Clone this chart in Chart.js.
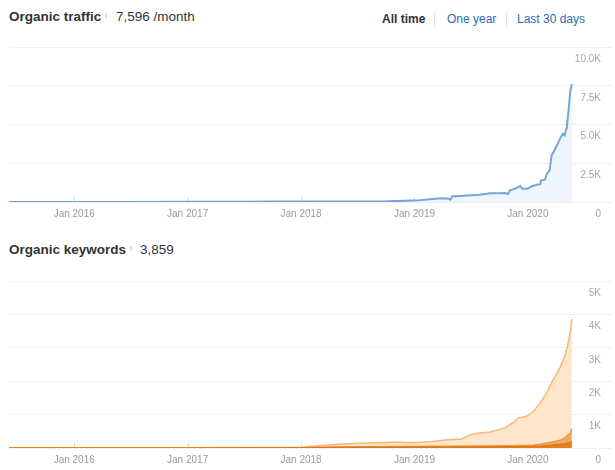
<!DOCTYPE html>
<html>
<head>
<meta charset="utf-8">
<script src="https://cdn.jsdelivr.net/npm/chart.js@4.4.1/dist/chart.umd.min.js"></script>
<style>
  body { margin: 0; background: #fff; font-family: "Liberation Sans", Arial, sans-serif; }
  #page { position: relative; width: 615px; height: 470px; overflow: hidden; }
  .t { position: absolute; white-space: nowrap; line-height: 16px; color: #333; }
  .title { font-weight: bold; font-size: 13.5px; }
  .num { font-size: 13.5px; }
  .info { font-size: 8px; color: #aaa; line-height: 10px; }
  .link { font-size: 12px; color: #2f6db5; }
  .sep { position: absolute; width: 1px; height: 15px; background: #e2e2e2; }
  .box { position: absolute; }
</style>
</head>
<body>
<div id="page">
  <div class="t title" style="left:9px;top:9px">Organic traffic</div>
  <div class="t info" style="left:105px;top:11px">i</div>
  <div class="t num" style="left:116px;top:9px">7,596 /month</div>

  <div class="t link" style="left:382px;top:11px;color:#333;font-weight:bold">All time</div>
  <div class="sep" style="left:434px;top:12px"></div>
  <div class="t link" style="left:447px;top:11px">One year</div>
  <div class="sep" style="left:506px;top:12px"></div>
  <div class="t link" style="left:517px;top:11px">Last 30 days</div>

  <div class="box" id="trafficChart" style="left:9px;top:40px;width:603px;height:185px"></div>

  <div class="t title" style="left:9px;top:242px">Organic keywords</div>
  <div class="t info" style="left:130px;top:244px">i</div>
  <div class="t num" style="left:140px;top:242px">3,859</div>

  <div class="box" id="keywordsChart" style="left:9px;top:274px;width:603px;height:197px"></div>
</div>
<script>
// months counted from Jan 2015 (12 = Jan 2016)
const yearTicks = [12, 24, 36, 48, 60];

const trafficMonths = [5.1, 8, 12, 18, 24, 30, 33, 36, 40, 42, 44.4, 46, 47.8, 48.5, 49.6, 50.9, 51.5, 51.8, 52,
    53.1, 54, 54.9, 56, 57, 57.6, 57.9, 58.1, 58.6, 59, 59.2, 59.4, 59.9, 60.5, 61, 61.3, 61.4, 61.8, 62, 62.3,
    62.5, 62.9, 63.4, 63.7, 63.9, 64.0, 64.1, 64.3, 64.5, 64.65];
const trafficValues = [5, 5, 6, 8, 10, 15, 25, 30, 30, 35, 40, 60, 100, 110, 170, 240, 230, 150, 360,
    410, 440, 470, 560, 570, 580, 520, 750, 850, 970, 1030, 860, 850, 1030, 1120, 1150, 1400, 1440, 1830, 2040,
    3000, 3440, 4090, 4400, 4300, 4600, 4730, 5900, 7200, 7596];

const keywordMonths = [5.1, 12, 24, 36, 38, 40, 42, 44.4, 46, 47.8, 49.6, 51.5, 53, 53.9, 54.9, 56, 56.6, 57.6,
    58.4, 59, 59.9, 60.6, 61.3, 62, 62.6, 63.4, 63.9, 64.2, 64.5, 64.65];
const keywordsTotal = [5, 5, 8, 20, 70, 110, 140, 160, 180, 160, 190, 250, 270, 400, 450, 480, 520, 610,
    750, 900, 950, 1100, 1350, 1650, 2000, 2400, 2750, 3050, 3500, 3859];
const keywordsTop10 = [2, 2, 3, 8, 20, 30, 35, 40, 45, 45, 50, 55, 55, 60, 60, 65, 65, 70,
    70, 75, 80, 90, 110, 150, 180, 230, 300, 380, 450, 580];
const keywordsTop3 = [1, 1, 2, 5, 10, 15, 18, 20, 22, 22, 25, 25, 28, 30, 30, 32, 32, 35,
    35, 38, 40, 45, 55, 70, 85, 110, 130, 150, 160, 190];

const FONT = "'Liberation Sans', Arial, sans-serif";

function points(xs, ys) {
    return xs.map((x, i) => ({ x: x, y: ys[i] }));
}

// small tick marks standing on the baseline at each year
const yearMarks = {
    id: 'yearMarks',
    beforeDatasetsDraw(chart) {
        const x = chart.scales.x, y = chart.scales.y;
        const ctx = chart.ctx;
        const base = y.getPixelForValue(0);
        ctx.save();
        ctx.strokeStyle = '#d6d6d6';
        ctx.lineWidth = 1;
        yearTicks.forEach(v => {
            const px = Math.round(x.getPixelForValue(v)) + 0.5;
            ctx.beginPath();
            ctx.moveTo(px, base);
            ctx.lineTo(px, base - 5);
            ctx.stroke();
        });
        ctx.restore();
    }
};

function makeOptions(yMax, yStep, fmt) {
    return {
        responsive: true,
        maintainAspectRatio: false,
        animation: false,
        layout: { padding: { top: 7, left: 0, right: 0, bottom: 0 } },
        plugins: { legend: { display: false }, tooltip: { enabled: false } },
        elements: { point: { radius: 0 }, line: { tension: 0 } },
        scales: {
            x: {
                type: 'linear',
                min: 5.1,
                max: 68.9,
                grid: { display: false, drawTicks: false },
                border: { display: false },
                afterBuildTicks: s => { s.ticks = yearTicks.map(v => ({ value: v })); },
                afterFit: s => { s.height = 23; s.paddingLeft = 0; s.paddingRight = 0; },
                ticks: {
                    padding: 6,
                    color: '#9a9a9a',
                    font: { family: FONT, size: 10 },
                    maxRotation: 0,
                    callback: v => 'Jan ' + (2015 + v / 12)
                }
            },
            y: {
                position: 'right',
                min: 0,
                max: yMax,
                grid: { color: '#efefef', drawTicks: false },
                border: { display: false },
                afterFit: s => { s.width = 0; s.paddingTop = 0; s.paddingBottom = 0; },
                ticks: {
                    mirror: true,
                    padding: -11,
                    labelOffset: 12,
                    stepSize: yStep,
                    color: '#a6a6a6',
                    font: { family: FONT, size: 10 },
                    callback: fmt
                }
            }
        }
    };
}

function trafficChart() {
    const ctx = document.createElement('canvas');
    document.getElementById('trafficChart').appendChild(ctx);
    new Chart(ctx, {
        type: 'line',
        data: {
            datasets: [{
                data: points(trafficMonths, trafficValues),
                borderColor: '#75a4da',
                borderWidth: 2,
                backgroundColor: '#eef5fd',
                fill: 'origin'
            }]
        },
        options: makeOptions(10000, 2500, v => v === 0 ? '0' : (v / 1000).toFixed(1) + 'K'),
        plugins: [yearMarks]
    });
}

function keywordsChart() {
    const ctx = document.createElement('canvas');
    document.getElementById('keywordsChart').appendChild(ctx);
    new Chart(ctx, {
        type: 'line',
        data: {
            datasets: [
                {
                    data: points(keywordMonths, keywordsTop3),
                    borderColor: '#e07516',
                    borderWidth: 1.5,
                    backgroundColor: '#e5801f',
                    fill: 'origin'
                },
                {
                    data: points(keywordMonths, keywordsTop10),
                    borderColor: '#ee9845',
                    borderWidth: 1.5,
                    backgroundColor: '#f3a95f',
                    fill: 'origin'
                },
                {
                    data: points(keywordMonths, keywordsTotal),
                    borderColor: '#f4b87a',
                    borderWidth: 1.5,
                    backgroundColor: '#fde6cc',
                    fill: 'origin'
                }
            ]
        },
        options: makeOptions(5000, 1000, v => v === 0 ? '0' : (v / 1000) + 'K'),
        plugins: [yearMarks]
    });
}

trafficChart();
keywordsChart();
</script>
</body>
</html>
